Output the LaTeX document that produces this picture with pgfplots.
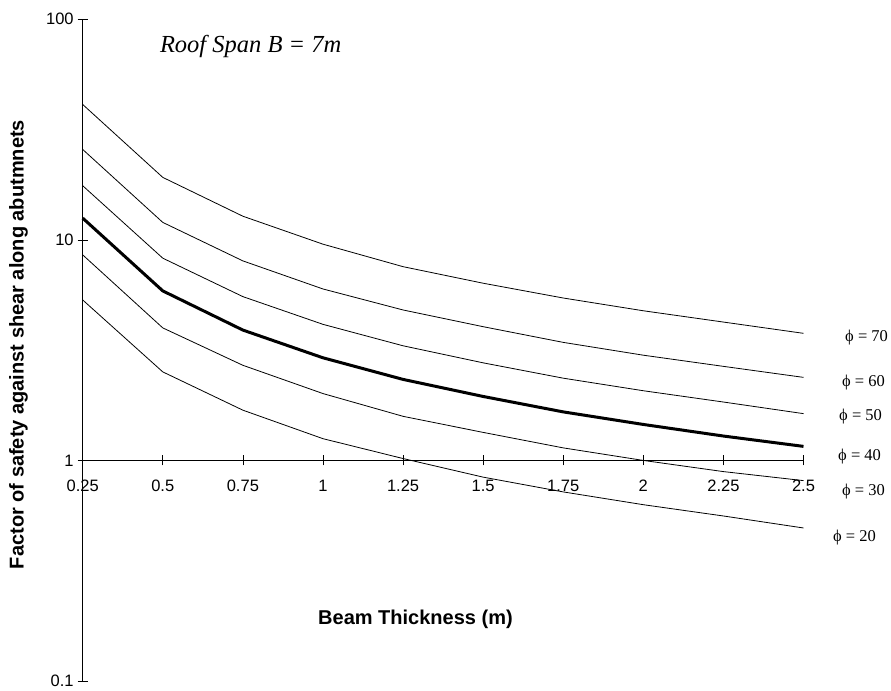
\documentclass[border=0pt]{standalone}
\usepackage{pgfplots}
\pgfplotsset{compat=1.18}
\usepackage{fontspec}
\setmainfont{Liberation Sans}
\newfontfamily\serif{Liberation Serif}
\begin{document}
\begin{tikzpicture}
\begin{axis}[
  scale only axis,
  width=720.8pt, height=661.7pt,
  xmin=0.25, xmax=2.5,
  ymin=0.1, ymax=100,
  ymode=log,
  axis x line=middle,
  axis y line=left,
  hide obscured x ticks=false,
  hide obscured y ticks=false,
  axis line style={-, line width=0.7pt},
  xtick={0.25,0.5,0.75,1,1.25,1.5,1.75,2,2.25,2.5},
  xticklabels={0.25,0.5,0.75,1,1.25,1.5,1.75,2,2.25,2.5},
  ytick={0.1,1,10,100},
  yticklabels={0.1,1,10,100},
  yminorticks=false,
  minor y tick style={draw=none},
  tick align=center,
  major tick length=10pt,
  tick style={line width=0.7pt, black},
  /pgf/number format/assume math mode=true,
  ticklabel style={font=\fontsize{16.5}{19}\selectfont},
  xticklabel style={yshift=-11pt},
  yticklabel style={xshift=-0.5pt},
  clip=false,
]
\addplot[black, line width=0.8pt] coordinates {(0.25,41.1) (0.5,19.2) (0.75,12.8) (1,9.56) (1.25,7.56) (1.5,6.36) (1.75,5.45) (2,4.77) (2.25,4.24) (2.5,3.77)};
\addplot[black, line width=0.8pt] coordinates {(0.25,25.7) (0.5,12.0) (0.75,8.03) (1,5.99) (1.25,4.81) (1.5,4.04) (1.75,3.43) (2,3.0) (2.25,2.67) (2.5,2.38)};
\addplot[black, line width=0.8pt] coordinates {(0.25,17.6) (0.5,8.26) (0.75,5.53) (1,4.14) (1.25,3.31) (1.5,2.77) (1.75,2.36) (2,2.07) (2.25,1.84) (2.5,1.63)};
\addplot[black, line width=3pt] coordinates {(0.25,12.55) (0.5,5.87) (0.75,3.90) (1,2.92) (1.25,2.33) (1.5,1.95) (1.75,1.66) (2,1.456) (2.25,1.29) (2.5,1.158)};
\addplot[black, line width=0.8pt] coordinates {(0.25,8.55) (0.5,3.99) (0.75,2.70) (1,2.01) (1.25,1.585) (1.5,1.34) (1.75,1.14) (2,1.0) (2.25,0.89) (2.5,0.81)};
\addplot[black, line width=0.8pt] coordinates {(0.25,5.34) (0.5,2.52) (0.75,1.69) (1,1.255) (1.25,1.02) (1.5,0.84) (1.75,0.72) (2,0.63) (2.25,0.56) (2.5,0.494)};

\node[anchor=base west, font=\serif\itshape\fontsize{24.5}{28}\selectfont, inner sep=0pt] at (rel axis cs:0.107,0.9505) {Roof Span B = 7m};

\node[anchor=west, font=\serif\fontsize{16.5}{19}\selectfont, inner sep=0pt] at (rel axis cs:1.0576,0.5184) {ϕ = 70};
\node[anchor=west, font=\serif\fontsize{16.5}{19}\selectfont, inner sep=0pt] at (rel axis cs:1.0534,0.4504) {ϕ = 60};
\node[anchor=west, font=\serif\fontsize{16.5}{19}\selectfont, inner sep=0pt] at (rel axis cs:1.0493,0.3990) {ϕ = 50};
\node[anchor=west, font=\serif\fontsize{16.5}{19}\selectfont, inner sep=0pt] at (rel axis cs:1.0479,0.3385) {ϕ = 40};
\node[anchor=west, font=\serif\fontsize{16.5}{19}\selectfont, inner sep=0pt] at (rel axis cs:1.0534,0.2856) {ϕ = 30};
\node[anchor=west, font=\serif\fontsize{16.5}{19}\selectfont, inner sep=0pt] at (rel axis cs:1.0409,0.2161) {ϕ = 20};

\node[font=\bfseries\fontsize{20}{24}\selectfont, inner sep=0pt] at (rel axis cs:0.4617,0.0937) {Beam Thickness (m)};
\node[font=\bfseries\fontsize{20}{24}\selectfont, inner sep=0pt, rotate=90] at (rel axis cs:-0.089,0.5085) {Factor of safety against shear along abutmnets};

\coordinate (ll) at (rel axis cs:0,0);
\coordinate (ur) at (rel axis cs:1,1);
\end{axis}
\path ([shift={(-82.7pt,-7pt)}]ll) rectangle ([shift={(87.5pt,19.3pt)}]ur);
\end{tikzpicture}
\end{document}
